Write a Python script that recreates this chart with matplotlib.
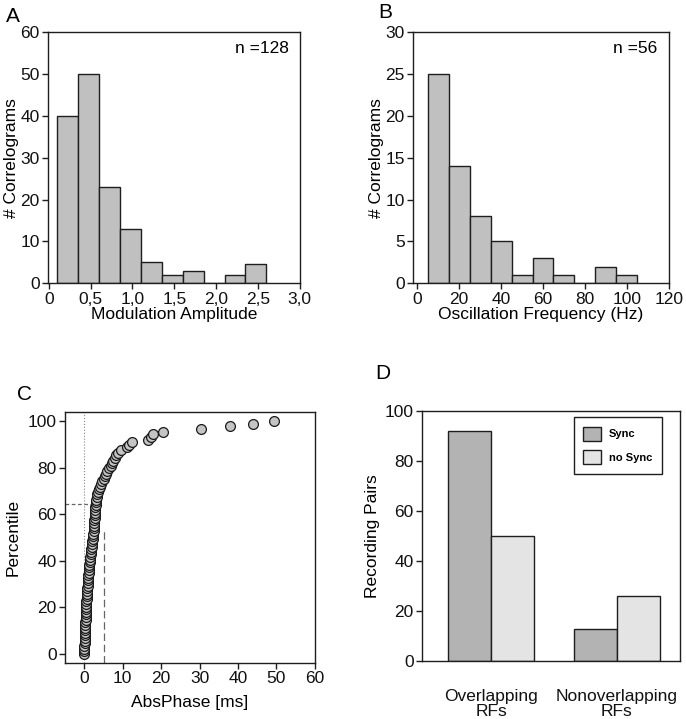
import matplotlib
matplotlib.use('Agg')
import matplotlib.pyplot as plt

plt.rcParams['font.family'] = ['Liberation Sans', 'DejaVu Sans']

# A: modulation amplitude histogram
amp_bin_left = [0.1, 0.35, 0.6, 0.85, 1.1, 1.35, 1.6, 1.85, 2.1, 2.35]
amp_counts = [40, 50, 23, 13, 5, 2, 3, 0, 2, 4.5]
amp_ticks = [0, 0.5, 1.0, 1.5, 2.0, 2.5, 3.0]
amp_tick_labels = ['0', '0,5', '1,0', '1,5', '2,0', '2,5', '3,0']

# B: oscillation frequency histogram
freq_bin_left = [5, 15, 25, 35, 45, 55, 65, 75, 85, 95]
freq_counts = [25, 14, 8, 5, 1, 3, 1, 0, 2, 1]

# C: cumulative distribution of absolute phase
phase_ms = [0.0, 0.0, 0.0, 0.0, 0.05, 0.1, 0.1, 0.1, 0.15, 0.2,
            0.2, 0.2, 0.25, 0.3, 0.3, 0.35, 0.4, 0.45, 0.5, 0.5,
            0.55, 0.6, 0.65, 0.7, 0.75, 0.8, 0.85, 0.9, 0.95, 1.0,
            1.05, 1.1, 1.15, 1.2, 1.3, 1.35, 1.45, 1.55, 1.6, 1.7,
            1.8, 1.9, 2.0, 2.1, 2.2, 2.3, 2.35, 2.4, 2.45, 2.5,
            2.55, 2.6, 2.65, 2.7, 2.75, 2.8, 2.85, 2.9, 3.0, 3.1,
            3.25, 3.4, 3.6, 3.8, 4.1, 4.4, 4.7, 5.0, 5.4, 5.7,
            6.0, 6.4, 6.8, 7.1, 7.5, 7.9, 8.2, 8.8, 9.5, 11.0,
            11.5, 12.5, 16.5, 17.3, 17.8, 20.4, 30.3, 38.0, 44.0, 49.3]
percentile = [0.0, 1.1, 2.2, 3.4, 4.5, 5.6, 6.7, 7.9, 9.0, 10.1,
              11.2, 12.4, 13.5, 14.6, 15.7, 16.9, 18.0, 19.1, 20.2, 21.3,
              22.5, 23.6, 24.7, 25.8, 27.0, 28.1, 29.2, 30.3, 31.5, 32.6,
              33.7, 34.8, 36.0, 37.1, 38.2, 39.3, 40.4, 41.6, 42.7, 43.8,
              44.9, 46.1, 47.2, 48.3, 49.4, 50.6, 51.7, 52.8, 53.9, 55.1,
              56.2, 57.3, 58.4, 59.6, 60.7, 61.8, 62.9, 64.0, 65.2, 66.3,
              67.4, 68.5, 69.7, 70.8, 71.9, 73.0, 74.2, 75.3, 76.4, 77.5,
              78.7, 79.8, 80.9, 82.0, 83.1, 84.3, 85.4, 86.5, 87.6, 88.8,
              89.9, 91.0, 92.1, 93.3, 94.4, 95.5, 96.6, 97.8, 98.9, 100.0]
guide_pct = 64.5   # horizontal dashed guide
guide_pct_x = 3.0
guide_ms = 5.2     # vertical dashed guide
guide_ms_y = 54

# D: recording pairs
groups = ['Overlapping\nRFs', 'Nonoverlapping\nRFs']
sync_pairs = [92, 13]
nosync_pairs = [50, 26]

edge = '#1e1e1e'
fs = 12.5

fig = plt.figure(figsize=(6.86, 7.19), dpi=100)


def style_axes(ax):
    for s in ax.spines.values():
        s.set_color(edge)
        s.set_linewidth(1.0)
    ax.tick_params(direction='out', length=4, width=1.0, color=edge,
                   labelsize=fs, pad=2, labelcolor='#111111')


# panel A
axA = fig.add_axes([0.070, 0.606, 0.367, 0.349])
axA.bar(amp_bin_left, amp_counts, width=0.25, align='edge',
        color='#c0c0c0', edgecolor=edge, linewidth=1.0)
axA.set_xlim(-0.01, 3.0)
axA.set_ylim(0, 60)
axA.set_xticks(amp_ticks)
axA.set_xticklabels(amp_tick_labels)
axA.set_yticks(range(0, 61, 10))
axA.set_xlabel('Modulation Amplitude', fontsize=fs, labelpad=0)
axA.set_ylabel('# Correlograms', fontsize=fs, labelpad=1)
axA.text(0.955, 0.935, 'n =128', transform=axA.transAxes, ha='right',
         va='center', fontsize=fs)
style_axes(axA)
fig.text(0.009, 0.977, 'A', fontsize=15, va='center')

# panel B
axB = fig.add_axes([0.602, 0.606, 0.373, 0.349])
axB.bar(freq_bin_left, freq_counts, width=10, align='edge',
        color='#c0c0c0', edgecolor=edge, linewidth=1.0)
axB.set_xlim(-2, 120)
axB.set_ylim(0, 30)
axB.set_xticks(range(0, 121, 20))
axB.set_yticks(range(0, 31, 5))
axB.set_xlabel('Oscillation Frequency (Hz)', fontsize=fs, labelpad=0)
axB.set_ylabel('# Correlograms', fontsize=fs, labelpad=1)
axB.text(0.955, 0.935, 'n =56', transform=axB.transAxes, ha='right',
         va='center', fontsize=fs)
style_axes(axB)
fig.text(0.551, 0.983, 'B', fontsize=15, va='center')

# panel C
axC = fig.add_axes([0.095, 0.078, 0.364, 0.349])
axC.axvline(0, color='#888888', linestyle=':', linewidth=0.8, zorder=1)
axC.plot([-5, guide_pct_x], [guide_pct, guide_pct], color='#666666',
         linestyle=(0, (3, 2)), linewidth=0.9, zorder=1)
axC.plot([guide_ms, guide_ms], [-4, guide_ms_y], color='#666666',
         linestyle=(0, (6, 3)), linewidth=0.9, zorder=1)
axC.scatter(phase_ms, percentile, s=50, facecolor='#c4c4c4',
            edgecolor='#1a1a1a', linewidth=0.9, zorder=3)
axC.set_xlim(-5, 60)
axC.set_ylim(-4, 104)
axC.set_xticks(range(0, 61, 10))
axC.set_yticks(range(0, 101, 20))
axC.set_xlabel('AbsPhase [ms]', fontsize=fs, labelpad=6)
axC.set_ylabel('Percentile', fontsize=fs, labelpad=5)
style_axes(axC)
fig.text(0.025, 0.451, 'C', fontsize=15, va='center')

# panel D
axD = fig.add_axes([0.615, 0.080, 0.376, 0.348])
xpos = range(len(groups))
w = 0.343
axD.bar([x - w / 2 for x in xpos], sync_pairs, width=w, color='#b3b3b3',
        edgecolor=edge, linewidth=1.0, label='Sync')
axD.bar([x + w / 2 for x in xpos], nosync_pairs, width=w, color='#e4e4e4',
        edgecolor=edge, linewidth=1.0, label='no Sync')
axD.set_xlim(-0.554, 1.502)
axD.set_ylim(0, 100)
axD.set_yticks(range(0, 101, 20))
axD.set_xticks(list(xpos))
axD.set_xticklabels(groups, linespacing=1.0)
axD.set_ylabel('Recording Pairs', fontsize=fs, labelpad=3)
style_axes(axD)
axD.tick_params(axis='x', length=0, pad=20)
leg = axD.legend(loc='upper right', bbox_to_anchor=(0.93, 0.976),
                 borderaxespad=0, fancybox=False, frameon=True,
                 prop={'size': 8, 'weight': 'bold'}, handlelength=1.6,
                 handleheight=1.6, handletextpad=0.7, labelspacing=0.8,
                 borderpad=0.85, framealpha=1)
leg.get_frame().set_edgecolor(edge)
leg.get_frame().set_linewidth(1.0)
fig.text(0.547, 0.480, 'D', fontsize=15, va='center')

plt.savefig('out.png', dpi=100)
